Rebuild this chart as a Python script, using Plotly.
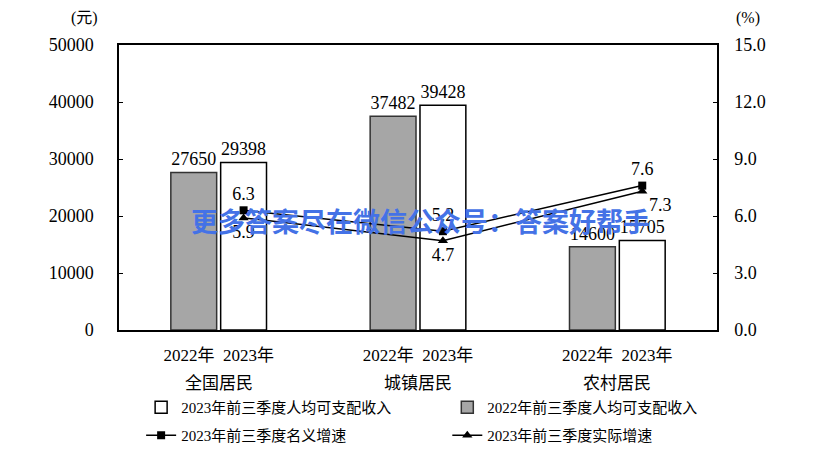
import plotly.graph_objects as go

groups = ["全国居民", "城镇居民", "农村居民"]
year_labels = ["2022年", "2023年"]
income_2022 = [27650, 37482, 14600]
income_2023 = [29398, 39428, 15705]
nominal_growth = [6.3, 5.2, 7.6]
real_growth = [5.9, 4.7, 7.3]

SERIF = "Liberation Serif, Noto Sans CJK SC"
OFF = 0.125
idx = list(range(len(groups)))
x22 = [i - OFF for i in idx]
x23 = [i + OFF for i in idx]

fig = go.Figure()

fig.add_trace(go.Bar(
    x=x23, y=income_2023, width=0.23, name="2023年前三季度人均可支配收入",
    marker=dict(color="white", line=dict(color="black", width=1.5)),
    text=[str(v) for v in income_2023], textposition="outside",
    textfont=dict(family=SERIF, size=18, color="black"),
    cliponaxis=False, legend="legend",
))
fig.add_trace(go.Bar(
    x=x22, y=income_2022, width=0.23, name="2022年前三季度人均可支配收入",
    marker=dict(color="#a6a6a6", line=dict(color="#333333", width=1.5)),
    text=[str(v) for v in income_2022], textposition="outside",
    textfont=dict(family=SERIF, size=18, color="black"),
    cliponaxis=False, legend="legend2",
))
fig.add_trace(go.Scatter(
    x=x23, y=nominal_growth, yaxis="y2", mode="lines+markers+text",
    name="2023年前三季度名义增速",
    line=dict(color="black", width=1.5),
    marker=dict(symbol="square", size=8, color="black"),
    text=[str(v) for v in nominal_growth], textposition="top center",
    textfont=dict(family=SERIF, size=18, color="black"),
    cliponaxis=False, legend="legend3",
))
fig.add_trace(go.Scatter(
    x=x23, y=real_growth, yaxis="y2", mode="lines+markers+text",
    name="2023年前三季度实际增速",
    line=dict(color="black", width=1.5),
    marker=dict(symbol="triangle-up", size=9, color="black"),
    text=[str(v) for v in real_growth],
    textposition=["bottom center", "bottom center", "bottom right"],
    textfont=dict(family=SERIF, size=18, color="black"),
    cliponaxis=False, legend="legend4",
))

ticktext = ["  ".join(year_labels) for _ in idx]

annotations = [
    dict(text="(元)", x=-0.057, y=1.095, xref="paper", yref="paper",
         xanchor="center", yanchor="middle", showarrow=False,
         font=dict(family=SERIF, size=16, color="black")),
    dict(text="(%)", x=1.052, y=1.095, xref="paper", yref="paper",
         xanchor="center", yanchor="middle", showarrow=False,
         font=dict(family=SERIF, size=16, color="black")),
    dict(text="更多答案尽在微信公众号：答案好帮手", x=0.505, y=0.385,
         xref="paper", yref="paper", xanchor="center", yanchor="middle",
         showarrow=False,
         font=dict(family="Noto Sans CJK SC", size=27, color="#4472e6", weight="bold")),
]
for i, g in zip(idx, groups):
    annotations.append(dict(text=g, x=i, y=-0.186, xref="x", yref="paper",
                            xanchor="center", yanchor="middle", showarrow=False,
                            font=dict(family=SERIF, size=17, color="black")))

leg_common = dict(orientation="v", xanchor="left", yanchor="top",
                  font=dict(family=SERIF, size=15, color="black"),
                  bgcolor="rgba(0,0,0,0)")
row1_y = -0.214
row2_y = -0.312
col1_x = 0.037
col2_x = 0.549

fig.update_layout(
    width=830, height=442,
    margin=dict(l=111, r=121, t=37, b=120, autoexpand=False),
    paper_bgcolor="white", plot_bgcolor="white",
    barmode="overlay",
    showlegend=True,
    legend=dict(x=col1_x, y=row1_y, **leg_common),
    legend2=dict(x=col2_x, y=row1_y, **leg_common),
    legend3=dict(x=col1_x, y=row2_y, **leg_common),
    legend4=dict(x=col2_x, y=row2_y, **leg_common),
    xaxis=dict(range=[-0.5, 2.5], tickvals=idx, ticktext=ticktext, tickangle=0,
               showline=True, linecolor="black", linewidth=1.5, mirror=True,
               ticks="", showgrid=False, zeroline=False, ticklabelstandoff=9,
               tickfont=dict(family=SERIF, size=17, color="black")),
    yaxis=dict(range=[0, 50000], dtick=10000, tickformat="d", showline=True,
               linecolor="black", linewidth=1.5, ticks="inside", ticklen=4,
               tickcolor="black", showgrid=False, zeroline=False,
               ticklabelstandoff=20,
               tickfont=dict(family=SERIF, size=18, color="black")),
    yaxis2=dict(range=[0, 15], dtick=3, tickformat=".1f", overlaying="y", side="right",
                showline=True, linecolor="black", linewidth=1.5, ticks="inside",
                ticklen=4, tickcolor="black", showgrid=False, zeroline=False,
                ticklabelstandoff=12,
                tickfont=dict(family=SERIF, size=18, color="black")),
    annotations=annotations,
)

fig.write_html("out.html")
